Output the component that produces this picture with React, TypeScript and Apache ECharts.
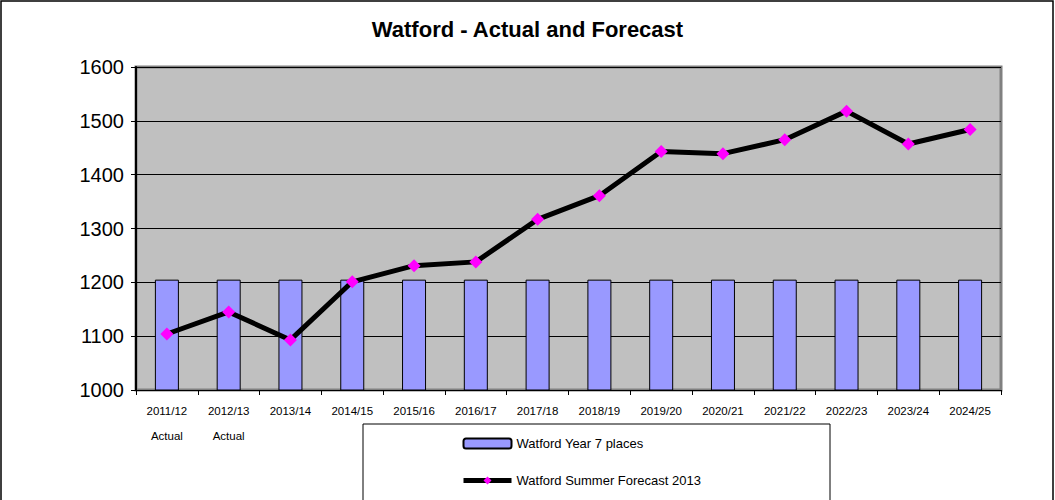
import React, { useEffect, useRef } from "react";
import * as echarts from "echarts";

const categories = [
  "2011/12\nActual", "2012/13\nActual", "2013/14", "2014/15", "2015/16", "2016/17", "2017/18",
  "2018/19", "2019/20", "2020/21", "2021/22", "2022/23", "2023/24", "2024/25",
];
const places = [1205, 1205, 1205, 1205, 1205, 1205, 1205, 1205, 1205, 1205, 1205, 1205, 1205, 1205];
const forecast = [1104, 1145, 1093, 1201, 1231, 1238, 1317, 1361, 1443, 1439, 1465, 1518, 1457, 1484];
const placesName = "Watford Year 7 places";
const forecastName = "Watford Summer Forecast 2013";
const titleText = "Watford - Actual and Forecast";

export default function App() {
  const ref = useRef<HTMLDivElement>(null);
  useEffect(() => {
    if (!ref.current) return;
    const chart = echarts.init(ref.current, null, { renderer: "svg" });
    chart.setOption({
      animation: false,
      backgroundColor: "#ffffff",
      title: {
        text: titleText,
        left: "center",
        top: 13,
        textStyle: { fontFamily: "Arial, Liberation Sans", fontSize: 22, fontWeight: "bold", color: "#000" },
      },
      graphic: [
        {
          type: "rect",
          shape: { x: 1, y: 1, width: 1052, height: 520 },
          style: { fill: "none", stroke: "#000", lineWidth: 1.5 },
          z: -1,
        },
        {
          type: "rect",
          shape: { x: 363, y: 424, width: 467, height: 100 },
          style: { fill: "#fff", stroke: "#000", lineWidth: 1 },
          z: 0,
        },
      ],
      legend: {
        orient: "vertical",
        left: 456,
        top: 432,
        itemGap: 24,
        itemWidth: 48,
        itemHeight: 10,
        z: 10,
        textStyle: { fontFamily: "Arial, Liberation Sans", fontSize: 13, color: "#000" },
        data: [
          { name: placesName, itemStyle: { borderColor: "#000", borderWidth: 2 } },
          { name: forecastName, lineStyle: { width: 5, color: "#000" }, itemStyle: { color: "#ff00ff" } },
        ],
      },
      grid: {
        left: 136,
        right: 54,
        top: 67,
        bottom: 110,
        show: true,
        backgroundColor: "#c0c0c0",
        borderColor: "#808080",
        borderWidth: 3,
      },
      xAxis: {
        type: "category",
        data: categories,
        boundaryGap: true,
        axisLine: { show: true, lineStyle: { color: "#000", width: 1 } },
        axisTick: { show: true, alignWithLabel: false, length: 5, lineStyle: { color: "#000" } },
        axisLabel: {
          interval: 0,
          margin: 8,
          fontSize: 11.5,
          lineHeight: 25,
          color: "#000",
          fontFamily: "Arial, Liberation Sans",
        },
      },
      yAxis: {
        type: "value",
        min: 1000,
        max: 1600,
        interval: 100,
        axisLine: { show: true, lineStyle: { color: "#000", width: 2 } },
        axisTick: { show: true, length: 5, lineStyle: { color: "#000" } },
        axisLabel: {
          fontSize: 20,
          color: "#000",
          margin: 12,
          fontFamily: "Arial, Liberation Sans",
          formatter: (v: number) => String(v),
        },
        splitLine: { show: true, lineStyle: { color: "#000", width: 1.2 } },
      },
      series: [
        {
          name: placesName,
          type: "bar",
          data: places,
          barWidth: 24,
          itemStyle: { color: "#9999ff", borderColor: "#000", borderWidth: 1 },
          z: 2,
        },
        {
          name: forecastName,
          type: "line",
          data: forecast,
          symbol: "diamond",
          symbolSize: 13,
          lineStyle: { color: "#000", width: 5 },
          itemStyle: { color: "#ff00ff", borderWidth: 0 },
          z: 3,
        },
      ],
    });
    return () => chart.dispose();
  }, []);
  return (
    <div
      ref={ref}
      style={{ position: "fixed", left: 0, top: 0, width: 1055, height: 500 }}
    />
  );
}
